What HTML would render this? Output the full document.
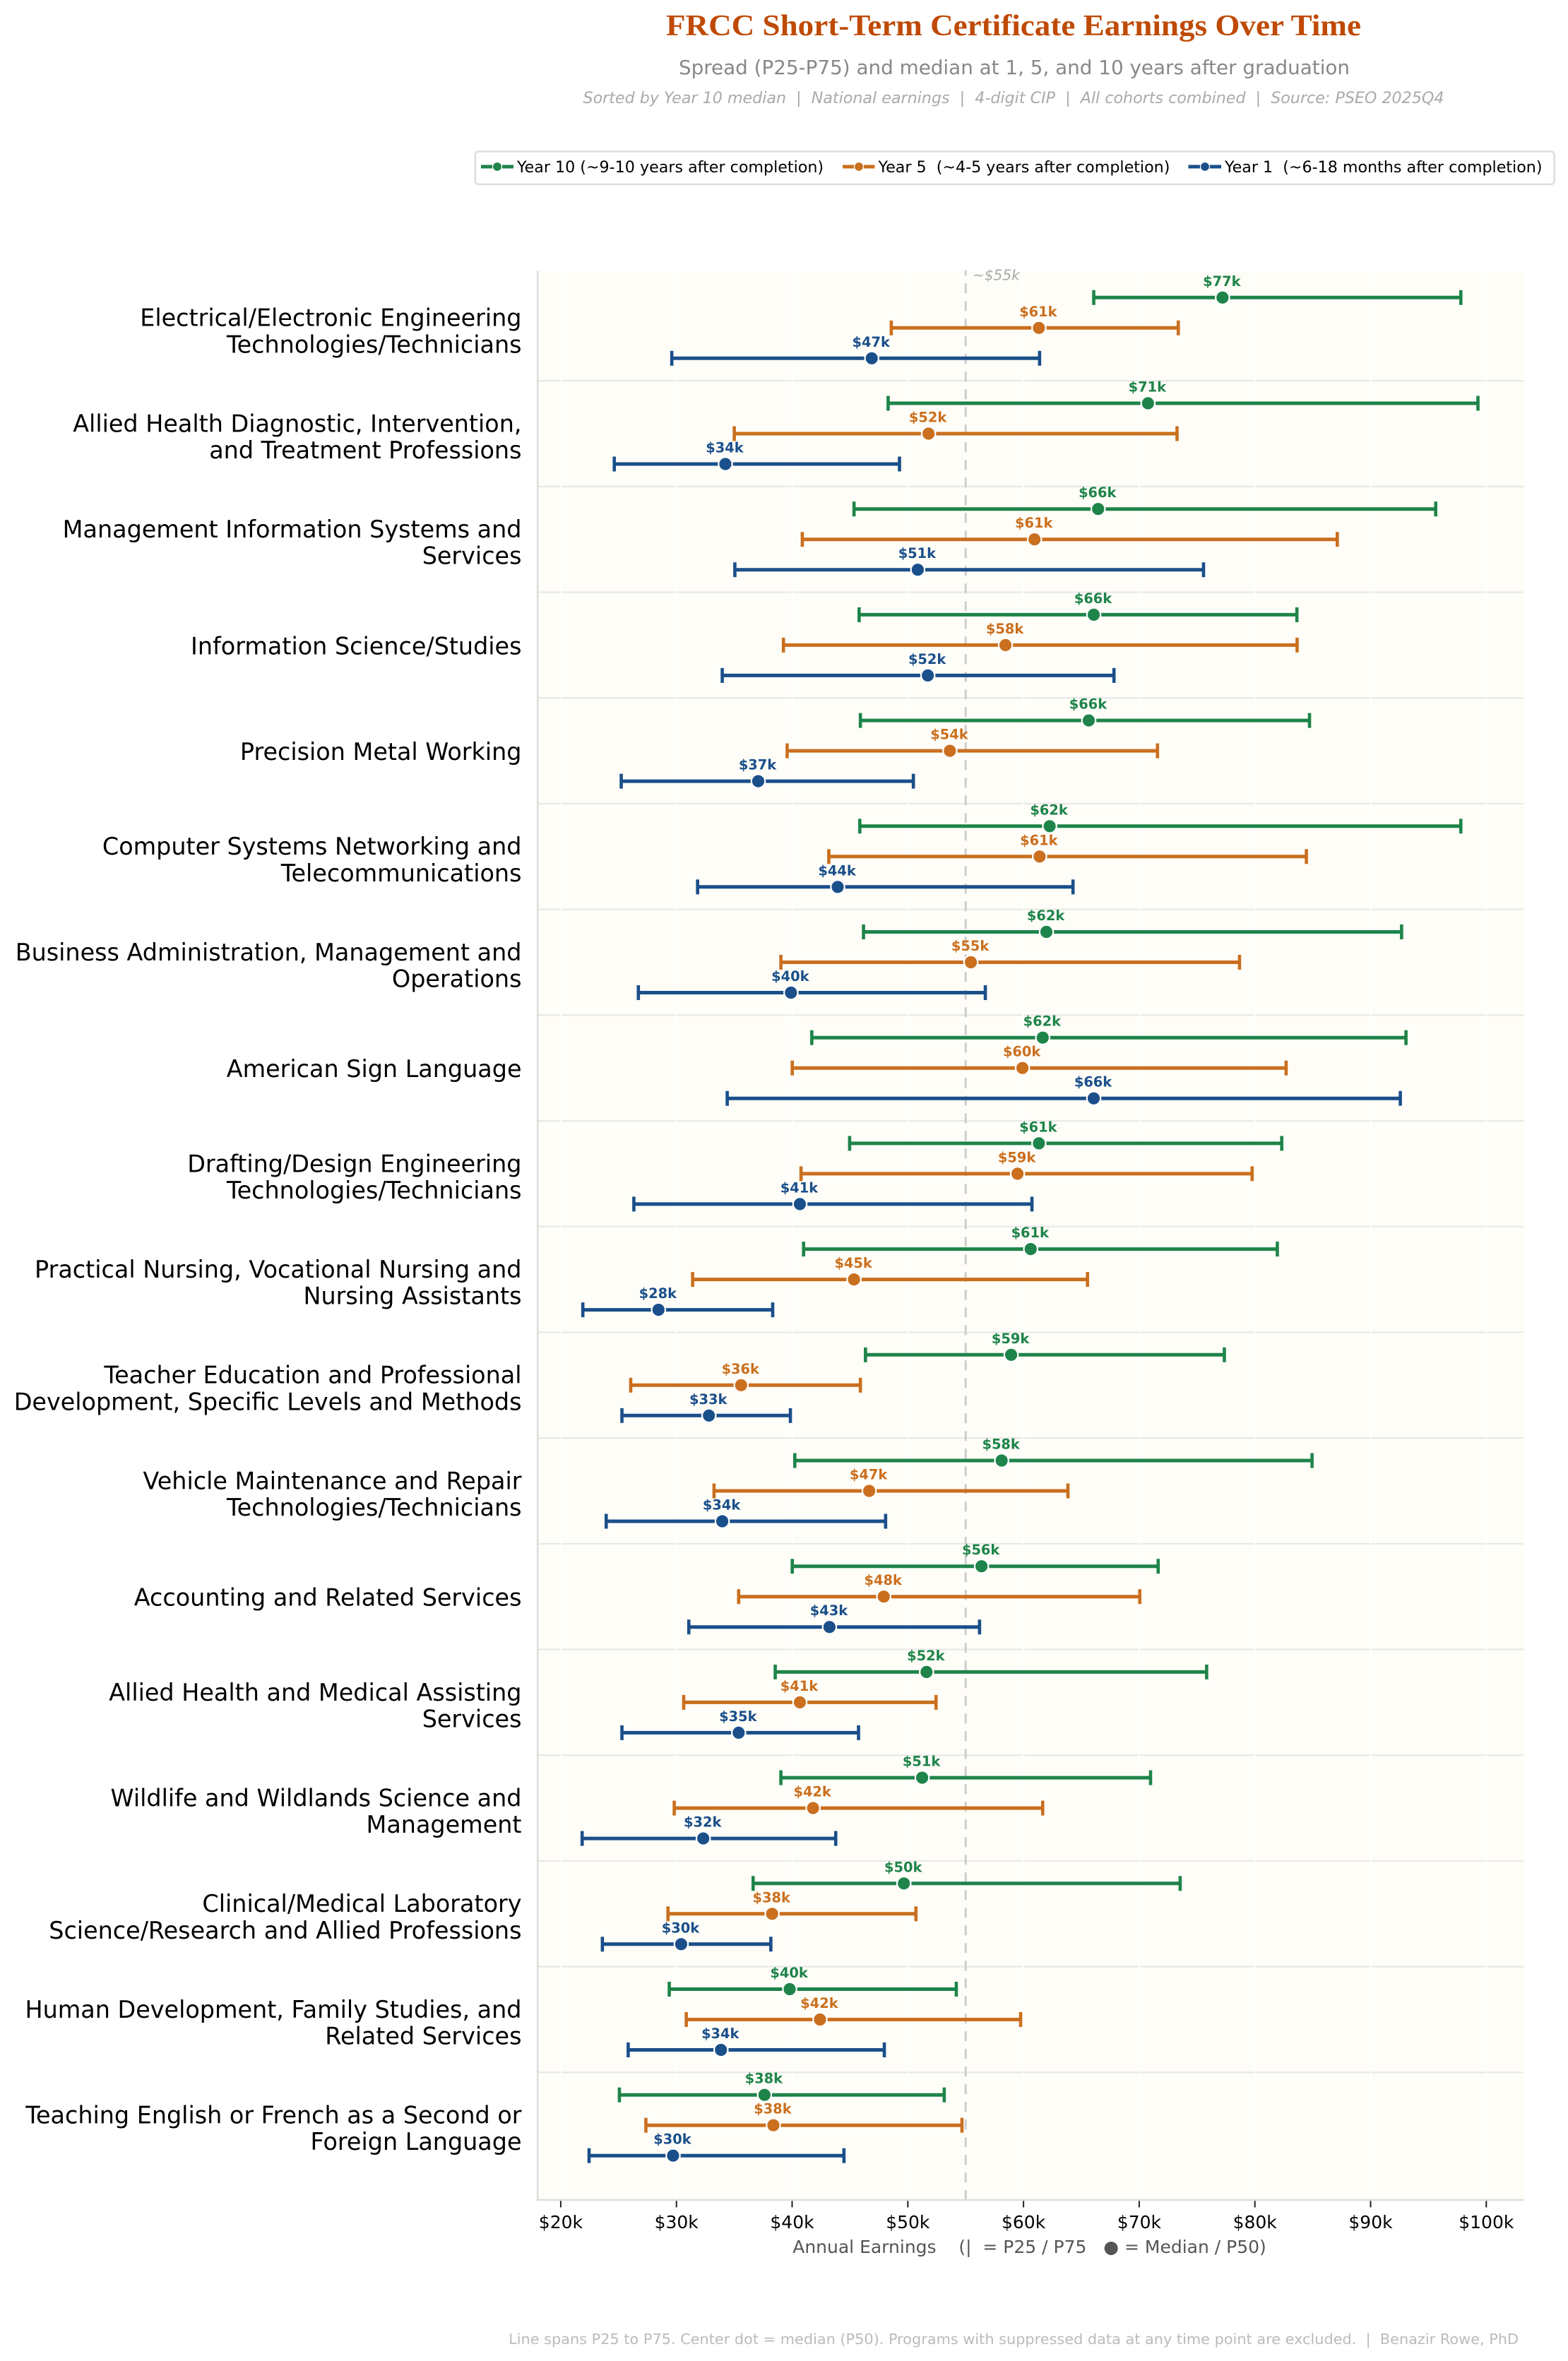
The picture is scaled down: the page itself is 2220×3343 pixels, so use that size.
<!DOCTYPE html>
<html lang="en">
<head>
<meta charset="utf-8">
<title>FRCC Short-Term Certificate Earnings Over Time</title>
<style>
html,body{margin:0;padding:0;background:#fff;}
svg{display:block;}
text{font-family:"DejaVu Sans","Liberation Sans",sans-serif;white-space:pre;}
</style>
</head>
<body>
<svg id="chart" xmlns="http://www.w3.org/2000/svg" width="2220" height="3343" viewBox="0 0 2220 3343">
  <rect x="0" y="0" width="2220" height="3343" fill="#ffffff"/>
  <text x="1435" y="50" text-anchor="middle" textLength="984" lengthAdjust="spacingAndGlyphs" style="font-family:'Liberation Serif','DejaVu Serif',serif;font-weight:bold;font-size:42px;" fill="#bf4a05">FRCC Short-Term Certificate Earnings Over Time</text>
  <text x="1436" y="105" text-anchor="middle" font-size="27.8" fill="#888888">Spread (P25-P75) and median at 1, 5, and 10 years after graduation</text>
  <text x="1435" y="146" text-anchor="middle" font-size="22.2" font-style="italic" fill="#aaaaaa">Sorted by Year 10 median  |  National earnings  |  4-digit CIP  |  All cohorts combined  |  Source: PSEO 2025Q4</text>

  <g>
    <rect x="672.8" y="214.5" width="1528" height="46.5" rx="5" ry="5" fill="#ffffff" stroke="#dddddd" stroke-width="2.5"/>
    <g>
      <line x1="681" x2="727" y1="236" y2="236" stroke="#1e8449" stroke-width="5"/>
      <circle cx="704" cy="236" r="6.5" fill="#1e8449" stroke="#ffffff" stroke-width="1.2"/>
      <text x="732" y="244" font-size="22.2" fill="#000000">Year 10 (~9-10 years after completion)</text>
    </g>
    <g>
      <line x1="1193" x2="1238.5" y1="236" y2="236" stroke="#ca6f1e" stroke-width="5"/>
      <circle cx="1216" cy="236" r="6.5" fill="#ca6f1e" stroke="#ffffff" stroke-width="1.2"/>
      <text x="1243.5" y="244" font-size="22.2" fill="#000000">Year 5  (~4-5 years after completion)</text>
    </g>
    <g>
      <line x1="1682.5" x2="1729" y1="236" y2="236" stroke="#1a4f8a" stroke-width="5"/>
      <circle cx="1706" cy="236" r="6.5" fill="#1a4f8a" stroke="#ffffff" stroke-width="1.2"/>
      <text x="1734" y="244" font-size="22.2" fill="#000000">Year 1  (~6-18 months after completion)</text>
    </g>
  </g>

  <g id="plot"></g>

  <text x="1457.5" y="3190" text-anchor="middle" font-size="25" fill="#555555">Annual Earnings    (|  = P25 / P75   ● = Median / P50)</text>
  <text x="2150" y="3319" text-anchor="end" font-size="20.83" fill="#bbbbbb">Line spans P25 to P75. Center dot = median (P50). Programs with suppressed data at any time point are excluded.  |  Benazir Rowe, PhD</text>
</svg>

<script>
// ---- chart data (values in $ thousands) ----
const categories = [
  "Electrical/Electronic Engineering\nTechnologies/Technicians",
  "Allied Health Diagnostic, Intervention,\nand Treatment Professions",
  "Management Information Systems and\nServices",
  "Information Science/Studies",
  "Precision Metal Working",
  "Computer Systems Networking and\nTelecommunications",
  "Business Administration, Management and\nOperations",
  "American Sign Language",
  "Drafting/Design Engineering\nTechnologies/Technicians",
  "Practical Nursing, Vocational Nursing and\nNursing Assistants",
  "Teacher Education and Professional\nDevelopment, Specific Levels and Methods",
  "Vehicle Maintenance and Repair\nTechnologies/Technicians",
  "Accounting and Related Services",
  "Allied Health and Medical Assisting\nServices",
  "Wildlife and Wildlands Science and\nManagement",
  "Clinical/Medical Laboratory\nScience/Research and Allied Professions",
  "Human Development, Family Studies, and\nRelated Services",
  "Teaching English or French as a Second or\nForeign Language"
];
const year10P25 = [66.07,48.30,45.35,45.79,45.90,45.85,46.17,41.70,44.97,40.99,46.34,40.23,40.01,38.54,39.03,36.63,29.38,25.07];
const year10P50 = [77.20,70.76,66.45,66.07,65.64,62.26,61.98,61.66,61.33,60.62,58.93,58.11,56.37,51.62,51.24,49.66,39.79,37.61];
const year10P75 = [97.80,99.28,95.63,83.63,84.72,97.80,92.68,93.06,82.32,81.94,77.36,84.94,71.64,75.83,70.98,73.54,54.19,53.15];
const year5P25  = [48.57,35.00,40.88,39.25,39.57,43.17,39.03,40.01,40.77,31.40,26.05,33.25,35.38,30.63,29.81,29.27,30.85,27.36];
const year5P50  = [61.33,51.79,60.95,58.44,53.64,61.39,55.45,59.91,59.48,45.35,35.59,46.66,47.92,40.67,41.81,38.27,42.41,38.38];
const year5P75  = [73.38,73.27,87.12,83.65,71.58,84.45,78.67,82.70,79.76,65.53,45.90,63.84,70.05,52.44,61.66,50.70,59.75,54.68];
const year1P25  = [29.60,24.63,35.05,33.96,25.23,31.83,26.71,34.39,26.32,21.91,25.29,23.93,31.07,25.29,21.85,23.60,25.83,22.45];
const year1P50  = [46.88,34.23,50.86,51.73,37.07,43.94,39.90,66.07,40.67,28.45,32.81,33.96,43.23,35.38,32.32,30.41,33.85,29.71];
const year1P75  = [61.39,49.28,75.56,67.82,50.48,64.28,56.70,92.57,60.73,38.32,39.85,48.08,56.20,45.74,43.77,38.16,47.97,44.48];
const xTickValues = [20,30,40,50,60,70,80,90,100];
const referenceValue = 55;

// ---- axis functions ----
function xScale(v){ return 793.9 + (v - 20) * 16.38; }
function yScale(i){ return 464.3 + i * 149.7; }

const SVGNS = "http://www.w3.org/2000/svg";
const plot = document.getElementById("plot");
const plotLeft = 761.2, plotRight = 2157, plotTop = 383, plotBottom = 3115;
const rowOffset = 43;

function make(tag, parent){
  const el = document.createElementNS(SVGNS, tag);
  parent.appendChild(el);
  return el;
}
function setAll(el, attrs){
  for (const k in attrs) el.setAttribute(k, attrs[k]);
}

// background
const bg = make("rect", plot);


setAll(bg, {x: plotLeft, y: plotTop, width: plotRight - plotLeft, height: plotBottom - plotTop, fill: "#fffdf7"});

// row dividers
categories.forEach(function(c, i){
  if (i === categories.length - 1) return;
  const d = make("line", plot);
  
  
  const y = yScale(i + 0.5);
  setAll(d, {x1: plotLeft, x2: plotRight, y1: y, y2: y, stroke: "#e8e8e8", "stroke-width": 2.2});
});

// vertical grid
xTickValues.forEach(function(v){
  const g = make("line", plot);
  
  
  const x = xScale(v);
  setAll(g, {x1: x, x2: x, y1: plotTop, y2: plotBottom, stroke: "#ffffff", "stroke-width": 1.8});
});

// reference line
const refLine = make("line", plot);


setAll(refLine, {x1: xScale(referenceValue), x2: xScale(referenceValue), y1: plotTop, y2: plotBottom, stroke: "#cccccc", "stroke-width": 3, "stroke-dasharray": "14 11", "stroke-dashoffset": 6.7});

const refLabel = make("text", plot);


setAll(refLabel, {x: xScale(referenceValue) + 9.5, y: 396.5, "font-size": 20.2, "font-style": "italic", fill: "#aaaaaa"});
refLabel.textContent = "~$" + referenceValue + "k";

// series
function drawSeries(seriesName, color, offset, p25, p50, p75){
  categories.forEach(function(c, i){
    const y = yScale(i) + offset;
    const group = make("g", plot);
    
    

    const line = make("line", group);
    
    
    setAll(line, {x1: xScale(p25[i]), x2: xScale(p75[i]), y1: y, y2: y, stroke: color, "stroke-width": 5});

    const capLow = make("line", group);
    
    
    setAll(capLow, {x1: xScale(p25[i]), x2: xScale(p25[i]), y1: y - 10.5, y2: y + 10.5, stroke: color, "stroke-width": 4.6});

    const capHigh = make("line", group);
    
    
    setAll(capHigh, {x1: xScale(p75[i]), x2: xScale(p75[i]), y1: y - 10.5, y2: y + 10.5, stroke: color, "stroke-width": 4.6});

    const dot = make("circle", group);
    
    
    setAll(dot, {cx: xScale(p50[i]), cy: y, r: 9.7, fill: color, stroke: "#ffffff", "stroke-width": 2.2});

    const label = make("text", group);
    
    
    setAll(label, {x: xScale(p50[i]) - 1, y: y - 16.5, "text-anchor": "middle", "font-size": 19.4, "font-weight": "bold", fill: color});
    label.textContent = "$" + Math.round(p50[i]) + "k";
  });
}
drawSeries("year-10", "#1e8449", -rowOffset, year10P25, year10P50, year10P75);
drawSeries("year-5", "#ca6f1e", 0, year5P25, year5P50, year5P75);
drawSeries("year-1", "#1a4f8a", rowOffset, year1P25, year1P50, year1P75);

// category labels
categories.forEach(function(c, i){
  const parts = c.split("\n");
  const y = yScale(i);
  parts.forEach(function(part, j){
    const t = make("text", plot);
    
    
    const by = parts.length === 2 ? y - 2.6 + j * 37.6 : y + 13;
    setAll(t, {x: 738.5, y: by, "text-anchor": "end", "font-size": 33.4, fill: "#000000"});
    t.textContent = part;
  });
});

// spines
const leftSpine = make("line", plot);


setAll(leftSpine, {x1: plotLeft, x2: plotLeft, y1: plotTop, y2: plotBottom + 1.3, stroke: "#dddddd", "stroke-width": 2.6});

const bottomSpine = make("line", plot);


setAll(bottomSpine, {x1: plotLeft - 1.3, x2: plotRight, y1: plotBottom, y2: plotBottom, stroke: "#dddddd", "stroke-width": 2.6});

// x ticks
xTickValues.forEach(function(v){
  const x = xScale(v);
  const tick = make("line", plot);
  
  
  setAll(tick, {x1: x, x2: x, y1: plotBottom + 1.3, y2: plotBottom + 10.5, stroke: "#222222", "stroke-width": 2});

  const tl = make("text", plot);
  
  
  setAll(tl, {x: x, y: 3155, "text-anchor": "middle", "font-size": 25, fill: "#000000"});
  tl.textContent = "$" + v + "k";
});
</script>
</body>
</html>
